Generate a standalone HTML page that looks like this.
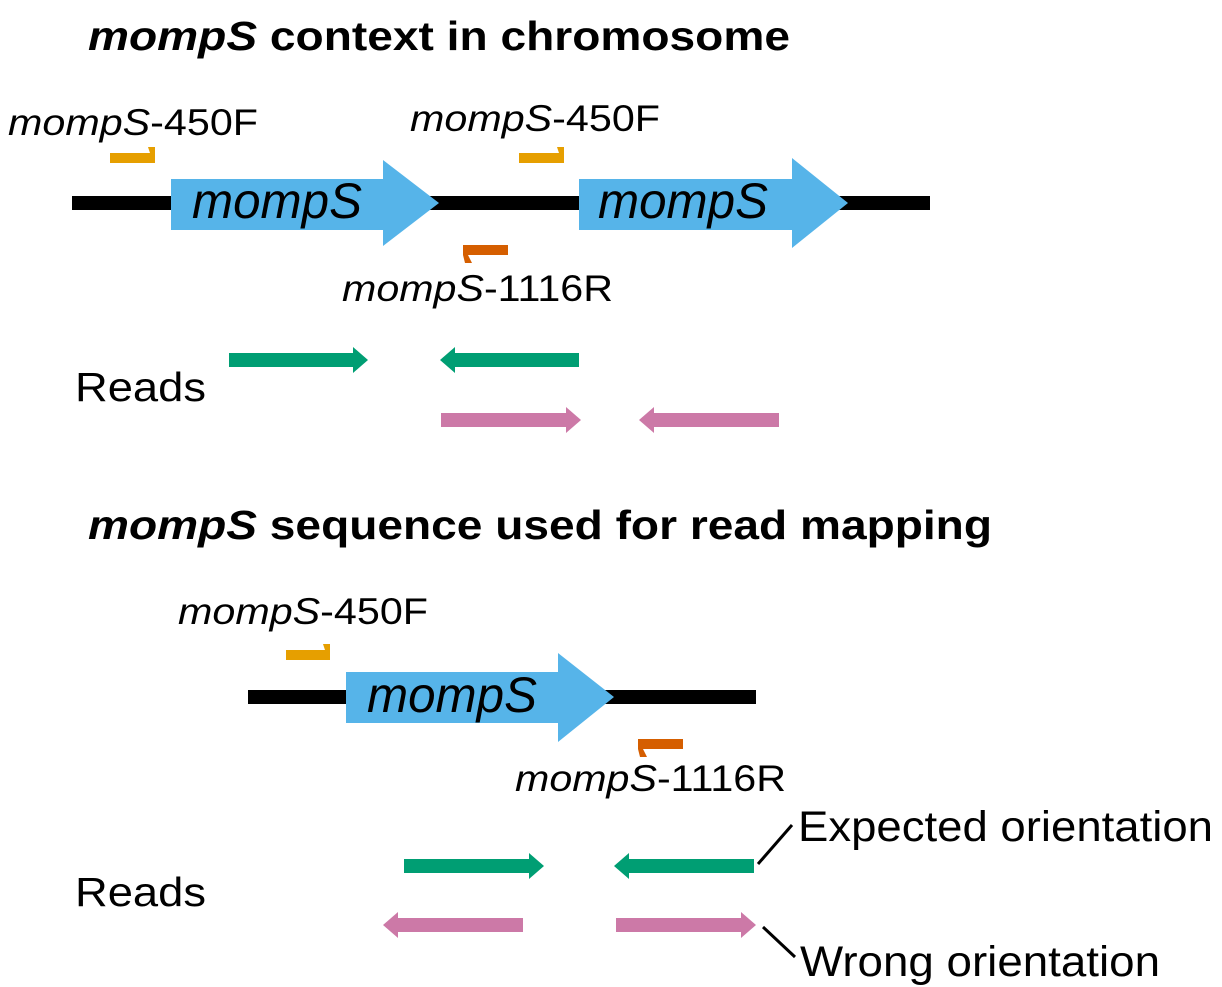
<!DOCTYPE html>
<html><head><meta charset="utf-8"><style>html,body{margin:0;padding:0;background:#fff}svg{display:block}</style></head>
<body>
<svg width="1222" height="987" viewBox="0 0 1222 987" xmlns="http://www.w3.org/2000/svg" font-family="Liberation Sans, Arial, sans-serif">
<!-- Titles -->
<text x="88" y="50" font-size="41" font-weight="bold" textLength="702" lengthAdjust="spacingAndGlyphs"><tspan font-style="italic">mompS</tspan> context in chromosome</text>
<text x="88" y="539" font-size="41" font-weight="bold" textLength="904" lengthAdjust="spacingAndGlyphs"><tspan font-style="italic">mompS</tspan> sequence used for read mapping</text>

<!-- Section 1 -->
<rect x="72" y="196" width="858" height="14" fill="#000"/>
<polygon points="171,179 383,179 383,160 439,203 383,246 383,230 171,230" fill="#56b4e9"/>
<polygon points="579,179 792,179 792,158 848,203 792,248 792,230 579,230" fill="#56b4e9"/>
<text x="192" y="218" font-size="50" font-style="italic" textLength="170" lengthAdjust="spacingAndGlyphs">mompS</text>
<text x="598" y="218" font-size="50" font-style="italic" textLength="170" lengthAdjust="spacingAndGlyphs">mompS</text>

<polygon points="110,153 150,153 148,147 155,147 155,163 110,163" fill="#e69f00"/>
<polygon points="519,153 559,153 557,147 564,147 564,163 519,163" fill="#e69f00"/>
<polygon points="463,245 508,245 508,255 468,255 472,263 465,263 463,255" fill="#d55e00"/>
<text x="8" y="135" font-size="37" textLength="250" lengthAdjust="spacingAndGlyphs"><tspan font-style="italic">mompS</tspan>-450F</text>
<text x="410" y="131" font-size="37" textLength="250" lengthAdjust="spacingAndGlyphs"><tspan font-style="italic">mompS</tspan>-450F</text>
<text x="342" y="301" font-size="37" textLength="271" lengthAdjust="spacingAndGlyphs"><tspan font-style="italic">mompS</tspan>-1116R</text>

<text x="75" y="401" font-size="41" textLength="131" lengthAdjust="spacingAndGlyphs">Reads</text>
<polygon points="229,353 353,353 353,347 368,360 353,373 353,367 229,367" fill="#009e73"/>
<polygon points="579,353 455,353 455,347 440,360 455,373 455,367 579,367" fill="#009e73"/>
<polygon points="441,413 566,413 566,407 581,420 566,433 566,427 441,427" fill="#cc79a7"/>
<polygon points="779,413 654,413 654,407 639,420 654,433 654,427 779,427" fill="#cc79a7"/>

<!-- Section 2 -->
<rect x="248" y="690" width="508" height="14" fill="#000"/>
<polygon points="346,672 558,672 558,653 614,697 558,742 558,723 346,723" fill="#56b4e9"/>
<text x="367" y="712" font-size="50" font-style="italic" textLength="170" lengthAdjust="spacingAndGlyphs">mompS</text>
<polygon points="286,650 325,650 323,644 330,644 330,660 286,660" fill="#e69f00"/>
<polygon points="638,739 683,739 683,749 643,749 647,757 640,757 638,749" fill="#d55e00"/>
<text x="178" y="624" font-size="37" textLength="250" lengthAdjust="spacingAndGlyphs"><tspan font-style="italic">mompS</tspan>-450F</text>
<text x="515" y="791" font-size="37" textLength="271" lengthAdjust="spacingAndGlyphs"><tspan font-style="italic">mompS</tspan>-1116R</text>

<text x="75" y="906" font-size="41" textLength="131" lengthAdjust="spacingAndGlyphs">Reads</text>
<polygon points="404,859 529,859 529,853 544,866 529,879 529,873 404,873" fill="#009e73"/>
<polygon points="754,859 629,859 629,853 614,866 629,879 629,873 754,873" fill="#009e73"/>
<polygon points="523,918 398,918 398,912 383,925 398,938 398,932 523,932" fill="#cc79a7"/>
<polygon points="616,918 741,918 741,912 756,925 741,938 741,932 616,932" fill="#cc79a7"/>

<line x1="758" y1="864" x2="792" y2="825" stroke="#000" stroke-width="3"/>
<line x1="763" y1="927" x2="795" y2="957" stroke="#000" stroke-width="3"/>
<text x="798" y="841" font-size="43" textLength="415" lengthAdjust="spacingAndGlyphs">Expected orientation</text>
<text x="800" y="976" font-size="43" textLength="360" lengthAdjust="spacingAndGlyphs">Wrong orientation</text>
</svg>
</body></html>
